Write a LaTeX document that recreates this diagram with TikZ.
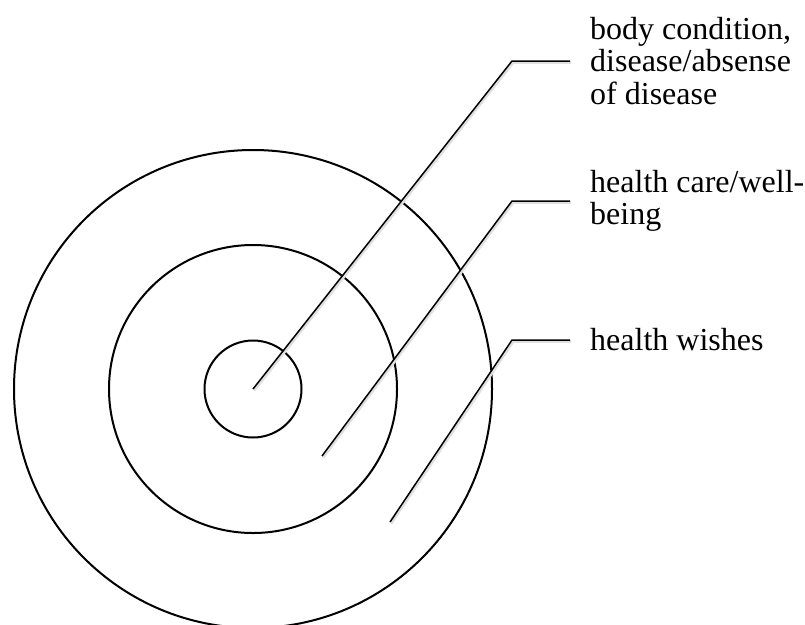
\documentclass[tikz,border=0pt]{standalone}
\usepackage{fontspec}
\setmainfont{Liberation Serif}
\tikzset{
  ring/.style={draw, circle, line width=2pt, minimum size=#1, inner sep=0pt},
  leader/.style={line width=1.5pt, line join=miter,
    preaction={draw, black!12, line width=2.5pt, transform canvas={shift={(1.2pt,-1.6pt)}}}},
  label/.style={anchor=west, inner sep=0pt, align=left, font=\fontsize{32}{32.5}\selectfont}
}
\begin{document}
\begin{tikzpicture}[x=1pt, y=-1pt]
			\useasboundingbox (0,0) rectangle (805,624);
			\node [ring=97pt] (inner) at (253,389) {};
			\node [ring=288pt] (middle) at (253,389) {};
			\node [ring=478pt] (outer) at (253,389) {};
			\coordinate (p1) at (253,389);
			\coordinate (p2) at (322,456);
			\coordinate (p3) at (390,522);
			\coordinate (k1) at (512,61);
			\coordinate (k2) at (512,201);
			\coordinate (k3) at (512,340);
			\node [label] (body) at (590,61) {body condition,\\disease/absense\\of disease};
			\node [label] (care) at (590,201) {health care/well-\\being};
			\node [label] (wish) at (590,340) {health wishes};
			\draw [leader] (p1) to (k1) to ([xshift=-20pt]body.west);
			\draw [leader] (p2) to (k2) to ([xshift=-20pt]care.west);
			\draw [leader] (p3) to (k3) to ([xshift=-20pt]wish.west);
		\end{tikzpicture}
\end{document}
